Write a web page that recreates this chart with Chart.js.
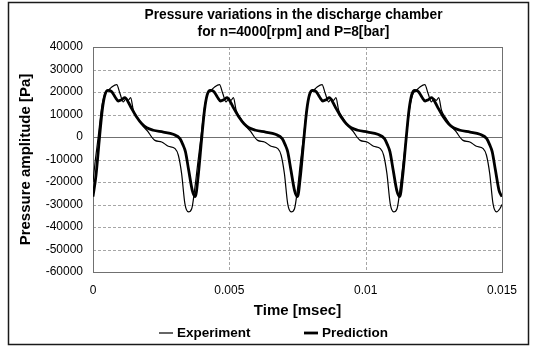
<!DOCTYPE html>
<html>
<head>
<meta charset="utf-8">
<script src="https://cdn.jsdelivr.net/npm/chart.js@4/dist/chart.umd.min.js"></script>
<style>
  body { margin: 0; background: #fff; overflow: hidden; }
  canvas { display: block; }
</style>
</head>
<body>
<canvas id="my-chart" width="535" height="347"></canvas>
<script>
const titleLines = ['Pressure variations in the discharge chamber', 'for n=4000[rpm] and P=8[bar]'];
const seriesNames = ['Experiment', 'Prediction'];

const xTicks = [0, 0.005, 0.01, 0.015];
const xTickLabels = ['0', '0.005', '0.01', '0.015'];
const yTicks = [-60000, -50000, -40000, -30000, -20000, -10000, 0, 10000, 20000, 30000, 40000];
const yTickLabels = ['-60000', '-50000', '-40000', '-30000', '-20000', '-10000', '0', '10000', '20000', '30000', '40000'];

// measured signal (thin line)
const expTime = [0,
  0.00007, 0.00019, 0.00032, 0.00044, 0.00056, 0.00069, 0.00087, 0.00099, 0.00111, 0.00121, 0.00129, 0.00138, 0.00148,
  0.00166, 0.00184, 0.00203, 0.00215, 0.00227, 0.00252, 0.00276, 0.00301, 0.00313, 0.00325, 0.00337, 0.00350, 0.00362, 0.00374,
  0.00384, 0.00396, 0.00409, 0.00421, 0.00433, 0.00446, 0.00464, 0.00476, 0.00488, 0.00498, 0.00506, 0.00515, 0.00525,
  0.00543, 0.00561, 0.00580, 0.00592, 0.00604, 0.00629, 0.00653, 0.00678, 0.00690, 0.00702, 0.00714, 0.00727, 0.00739, 0.00751,
  0.00760, 0.00772, 0.00785, 0.00797, 0.00809, 0.00822, 0.00840, 0.00852, 0.00864, 0.00874, 0.00882, 0.00891, 0.00901,
  0.00919, 0.00937, 0.00956, 0.00968, 0.00980, 0.01005, 0.01029, 0.01054, 0.01066, 0.01078, 0.01090, 0.01103, 0.01115, 0.01127,
  0.01137, 0.01149, 0.01162, 0.01174, 0.01186, 0.01199, 0.01217, 0.01229, 0.01241, 0.01251, 0.01259, 0.01268, 0.01278,
  0.01296, 0.01314, 0.01333, 0.01345, 0.01357, 0.01382, 0.01406, 0.01431, 0.01443, 0.01455, 0.01467, 0.01480, 0.01492, 0.01500];
const expValues = [-20000,
  -11900, 0, 13300, 19300, 20700, 22200, 23300, 19300, 15600, 17000, 16300, 17500, 11900,
  8100, 4700, 2200, 0, -1500, -2200, -4100, -5200, -8100, -16300, -29600, -33300, -31900, -22200,
  -11900, 0, 13300, 19300, 20700, 22200, 23300, 19300, 15600, 17000, 16300, 17500, 11900,
  8100, 4700, 2200, 0, -1500, -2200, -4100, -5200, -8100, -16300, -29600, -33300, -31900, -22200,
  -11900, 0, 13300, 19300, 20700, 22200, 23300, 19300, 15600, 17000, 16300, 17500, 11900,
  8100, 4700, 2200, 0, -1500, -2200, -4100, -5200, -8100, -16300, -29600, -33300, -31900, -22200,
  -11900, 0, 13300, 19300, 20700, 22200, 23300, 19300, 15600, 17000, 16300, 17500, 11900,
  8100, 4700, 2200, 0, -1500, -2200, -4100, -5200, -8100, -16300, -29600, -33300, -31900, -30000];

// model (thick line)
const predTime = [0,
  0.00011, 0.00024, 0.00034, 0.00044, 0.00055, 0.00068, 0.00081, 0.00093, 0.00105, 0.00117, 0.00129,
  0.00142, 0.00160, 0.00179, 0.00197, 0.00221, 0.00258, 0.00294, 0.00319, 0.00330, 0.00339, 0.00351, 0.00364,
  0.00375, 0.00386, 0.00399, 0.00409, 0.00419, 0.00430, 0.00443, 0.00456, 0.00468, 0.00480, 0.00492, 0.00504,
  0.00517, 0.00535, 0.00554, 0.00572, 0.00596, 0.00633, 0.00669, 0.00694, 0.00705, 0.00714, 0.00726, 0.00739,
  0.00750, 0.00761, 0.00774, 0.00784, 0.00794, 0.00805, 0.00818, 0.00831, 0.00843, 0.00855, 0.00867, 0.00879,
  0.00892, 0.00910, 0.00929, 0.00947, 0.00971, 0.01008, 0.01044, 0.01069, 0.01080, 0.01089, 0.01101, 0.01114,
  0.01125, 0.01136, 0.01149, 0.01159, 0.01169, 0.01180, 0.01193, 0.01206, 0.01218, 0.01230, 0.01242, 0.01254,
  0.01267, 0.01285, 0.01304, 0.01322, 0.01346, 0.01383, 0.01419, 0.01444, 0.01455, 0.01464, 0.01476, 0.01489,
  0.01500];
const predValues = [-26500,
  -17000, 0, 12000, 18800, 20700, 20200, 17800, 16000, 16600, 17500, 15600,
  12600, 8900, 5900, 4100, 3000, 2200, 1200, -700, -3500, -6500, -14800, -23700,
  -26500, -17000, 0, 12000, 18800, 20700, 20200, 17800, 16000, 16600, 17500, 15600,
  12600, 8900, 5900, 4100, 3000, 2200, 1200, -700, -3500, -6500, -14800, -23700,
  -26500, -17000, 0, 12000, 18800, 20700, 20200, 17800, 16000, 16600, 17500, 15600,
  12600, 8900, 5900, 4100, 3000, 2200, 1200, -700, -3500, -6500, -14800, -23700,
  -26500, -17000, 0, 12000, 18800, 20700, 20200, 17800, 16000, 16600, 17500, 15600,
  12600, 8900, 5900, 4100, 3000, 2200, 1200, -700, -3500, -6500, -14800, -23700,
  -26500];

const FONT = 'Arial, "Liberation Sans", sans-serif';

function toPoints(xs, ys) {
  return xs.map(function (x, i) { return { x: x, y: ys[i] }; });
}

// dashed grid, zero line, plot frame and outer border
const gridPlugin = {
  id: 'excelGrid',
  beforeDatasetsDraw: function (chart) {
    const c = chart.ctx;
    const a = chart.chartArea;
    const xs = chart.scales.x;
    const ys = chart.scales.y;
    c.save();
    c.lineWidth = 1;
    c.strokeStyle = '#a6a6a6';
    c.setLineDash([3, 2]);
    yTicks.forEach(function (v) {
      if (v === 0 || v === yTicks[0] || v === yTicks[yTicks.length - 1]) return;
      const y = Math.round(ys.getPixelForValue(v)) + 0.5;
      c.beginPath(); c.moveTo(a.left, y); c.lineTo(a.right, y); c.stroke();
    });
    xTicks.forEach(function (v, i) {
      if (i === 0 || i === xTicks.length - 1) return;
      const x = Math.round(xs.getPixelForValue(v)) + 0.5;
      c.beginPath(); c.moveTo(x, a.top); c.lineTo(x, a.bottom); c.stroke();
    });
    c.setLineDash([]);
    c.strokeStyle = '#707070';
    const y0 = Math.round(ys.getPixelForValue(0)) + 0.5;
    c.beginPath(); c.moveTo(a.left, y0); c.lineTo(a.right, y0); c.stroke();
    c.strokeRect(Math.round(a.left) + 0.5, Math.round(a.top) + 0.5,
      Math.round(a.right - a.left), Math.round(a.bottom - a.top));
    c.restore();
  },
  afterDraw: function (chart) {
    const c = chart.ctx;
    const a = chart.chartArea;
    c.save();
    // outer frame
    c.lineWidth = 1.5;
    c.strokeStyle = '#1a1a1a';
    c.strokeRect(8.5, 2.5, 520, 342);
    // title
    c.fillStyle = '#000';
    c.font = 'bold 13.75px ' + FONT;
    c.textAlign = 'center';
    c.textBaseline = 'middle';
    const cx = (a.left + a.right) / 2 - 4;
    c.fillText(titleLines[0], cx, 15);
    c.fillText(titleLines[1], cx, 32);
    // legend
    c.font = 'bold 13.5px ' + FONT;
    c.textAlign = 'left';
    const legendX = [159, 304];
    chart.data.datasets.forEach(function (ds, i) {
      const lx = legendX[i];
      c.strokeStyle = ds.borderColor;
      c.lineWidth = ds.borderWidth;
      c.beginPath(); c.moveTo(lx, 333); c.lineTo(lx + 14, 333); c.stroke();
      c.fillText(seriesNames[i], lx + 18, 333);
    });
    c.restore();
  }
};

window.addEventListener('DOMContentLoaded', function () {
  const canvas = document.getElementById('my-chart');
  const ctx = canvas.getContext('2d');
  window.myChart = new Chart(ctx, {
    type: 'line',
    data: {
      datasets: [{
        label: seriesNames[0],
        data: toPoints(expTime, expValues),
        borderColor: '#000',
        borderWidth: 1.2,
        pointRadius: 0,
        fill: false,
        cubicInterpolationMode: 'monotone'
      }, {
        label: seriesNames[1],
        data: toPoints(predTime, predValues),
        borderColor: '#000',
        borderWidth: 2.8,
        pointRadius: 0,
        fill: false,
        cubicInterpolationMode: 'monotone'
      }]
    },
    options: {
      responsive: false,
      animation: false,
      devicePixelRatio: 1,
      layout: { padding: { top: 47, right: 33, left: 0, bottom: 0 } },
      plugins: {
        legend: { display: false },
        title: { display: false },
        tooltip: { enabled: false }
      },
      scales: {
        x: {
          type: 'linear',
          min: 0,
          max: 0.015,
          grid: { display: false, drawTicks: false },
          border: { display: false },
          afterBuildTicks: function (s) { s.ticks = xTicks.map(function (v) { return { value: v }; }); },
          afterFit: function (s) { s.height = 75; },
          ticks: {
            autoSkip: false,
            maxRotation: 0,
            padding: 11,
            color: '#000',
            font: { family: FONT, size: 12 },
            callback: function (v) { return xTickLabels[xTicks.indexOf(v)]; }
          },
          title: {
            display: true,
            text: 'Time [msec]',
            color: '#000',
            font: { family: FONT, size: 15, weight: 'bold' },
            padding: { top: 0, bottom: 27 }
          }
        },
        y: {
          min: -60000,
          max: 40000,
          grid: { display: false, drawTicks: false },
          border: { display: false },
          afterBuildTicks: function (s) { s.ticks = yTicks.map(function (v) { return { value: v }; }); },
          afterFit: function (s) { s.width = 93; },
          ticks: {
            padding: 10,
            color: '#000',
            font: { family: FONT, size: 12 },
            callback: function (v) { return yTickLabels[yTicks.indexOf(v)]; }
          },
          title: {
            display: true,
            text: 'Pressure amplitude [Pa]',
            color: '#000',
            font: { family: FONT, size: 15, weight: 'bold' },
            padding: { top: 17, bottom: 0 }
          }
        }
      }
    },
    plugins: [gridPlugin]
  });
});
</script>
</body>
</html>
